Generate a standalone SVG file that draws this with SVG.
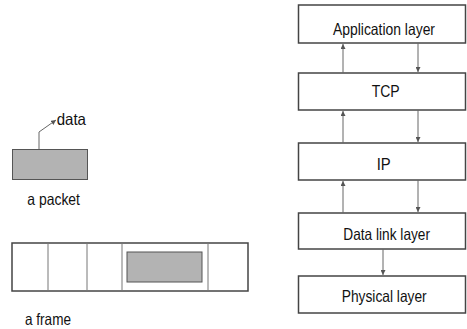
<svg xmlns="http://www.w3.org/2000/svg" width="467" height="329" viewBox="0 0 467 329">
<defs>
<marker id="ah" viewBox="0 0 10 10" refX="10" refY="5" markerWidth="5" markerHeight="5" orient="auto" markerUnits="userSpaceOnUse">
<path d="M0,0 L10,5 L0,10 z" fill="#555"/>
</marker>
</defs>
<style>
.box{fill:#fff;stroke:#444;stroke-width:1.5}
.gray{fill:#b3b3b3;stroke:#555;stroke-width:1}
.div{stroke:#777;stroke-width:1}
.lbl{font-family:"Liberation Sans",Arial,sans-serif;font-size:16.5px;fill:#111}
.c{text-anchor:middle}
.conn{stroke:#666;stroke-width:1;fill:none;marker-end:url(#ah)}
</style>
<g id="packet">
<rect class="gray" x="12.5" y="149.5" width="75" height="30"/>
<text class="lbl" x="27.3" y="205" textLength="52.7" lengthAdjust="spacingAndGlyphs">a packet</text>
</g>
<g id="data-label">
<text class="lbl" x="56.7" y="124.7" textLength="29.3" lengthAdjust="spacingAndGlyphs">data</text>
</g>
<g id="frame">
<rect class="box" x="12" y="243" width="236" height="48"/>
<line class="div" x1="48" y1="243" x2="48" y2="291"/>
<line class="div" x1="87" y1="243" x2="87" y2="291"/>
<line class="div" x1="122" y1="243" x2="122" y2="291"/>
<line class="div" x1="208" y1="243" x2="208" y2="291"/>
<rect class="gray" x="127" y="252" width="75" height="30"/>
<text class="lbl" x="25" y="325" textLength="46" lengthAdjust="spacingAndGlyphs">a frame</text>
</g>
<g id="app">
<rect class="box" x="298.5" y="5" width="167" height="38"/>
<text class="lbl" x="333" y="35" textLength="102" lengthAdjust="spacingAndGlyphs">Application layer</text>
</g>
<g id="tcp">
<rect class="box" x="298.5" y="73" width="167" height="37"/>
<text class="lbl" x="371.7" y="96.7" textLength="28" lengthAdjust="spacingAndGlyphs">TCP</text>
</g>
<g id="ip">
<rect class="box" x="298.5" y="143" width="167" height="37"/>
<text class="lbl" x="376.7" y="170" textLength="14" lengthAdjust="spacingAndGlyphs">IP</text>
</g>
<g id="datalink">
<rect class="box" x="298.5" y="213" width="167" height="36"/>
<text class="lbl" x="343.3" y="240" textLength="86.7" lengthAdjust="spacingAndGlyphs">Data link layer</text>
</g>
<g id="physical">
<rect class="box" x="298.5" y="276" width="167" height="37"/>
<text class="lbl" x="341.7" y="301.7" textLength="85" lengthAdjust="spacingAndGlyphs">Physical layer</text>
</g>
<g id="connectors">
<path class="conn" d="M39,149 L39,132 L56,120"/>
<line class="conn" x1="343" y1="73" x2="343" y2="44"/>
<line class="conn" x1="418" y1="43" x2="418" y2="72"/>
<line class="conn" x1="343" y1="143" x2="343" y2="111"/>
<line class="conn" x1="418" y1="110" x2="418" y2="142"/>
<line class="conn" x1="343" y1="213" x2="343" y2="181"/>
<line class="conn" x1="418" y1="180" x2="418" y2="212"/>
<line class="conn" x1="383" y1="249" x2="383" y2="275"/>
</g>
</svg>
